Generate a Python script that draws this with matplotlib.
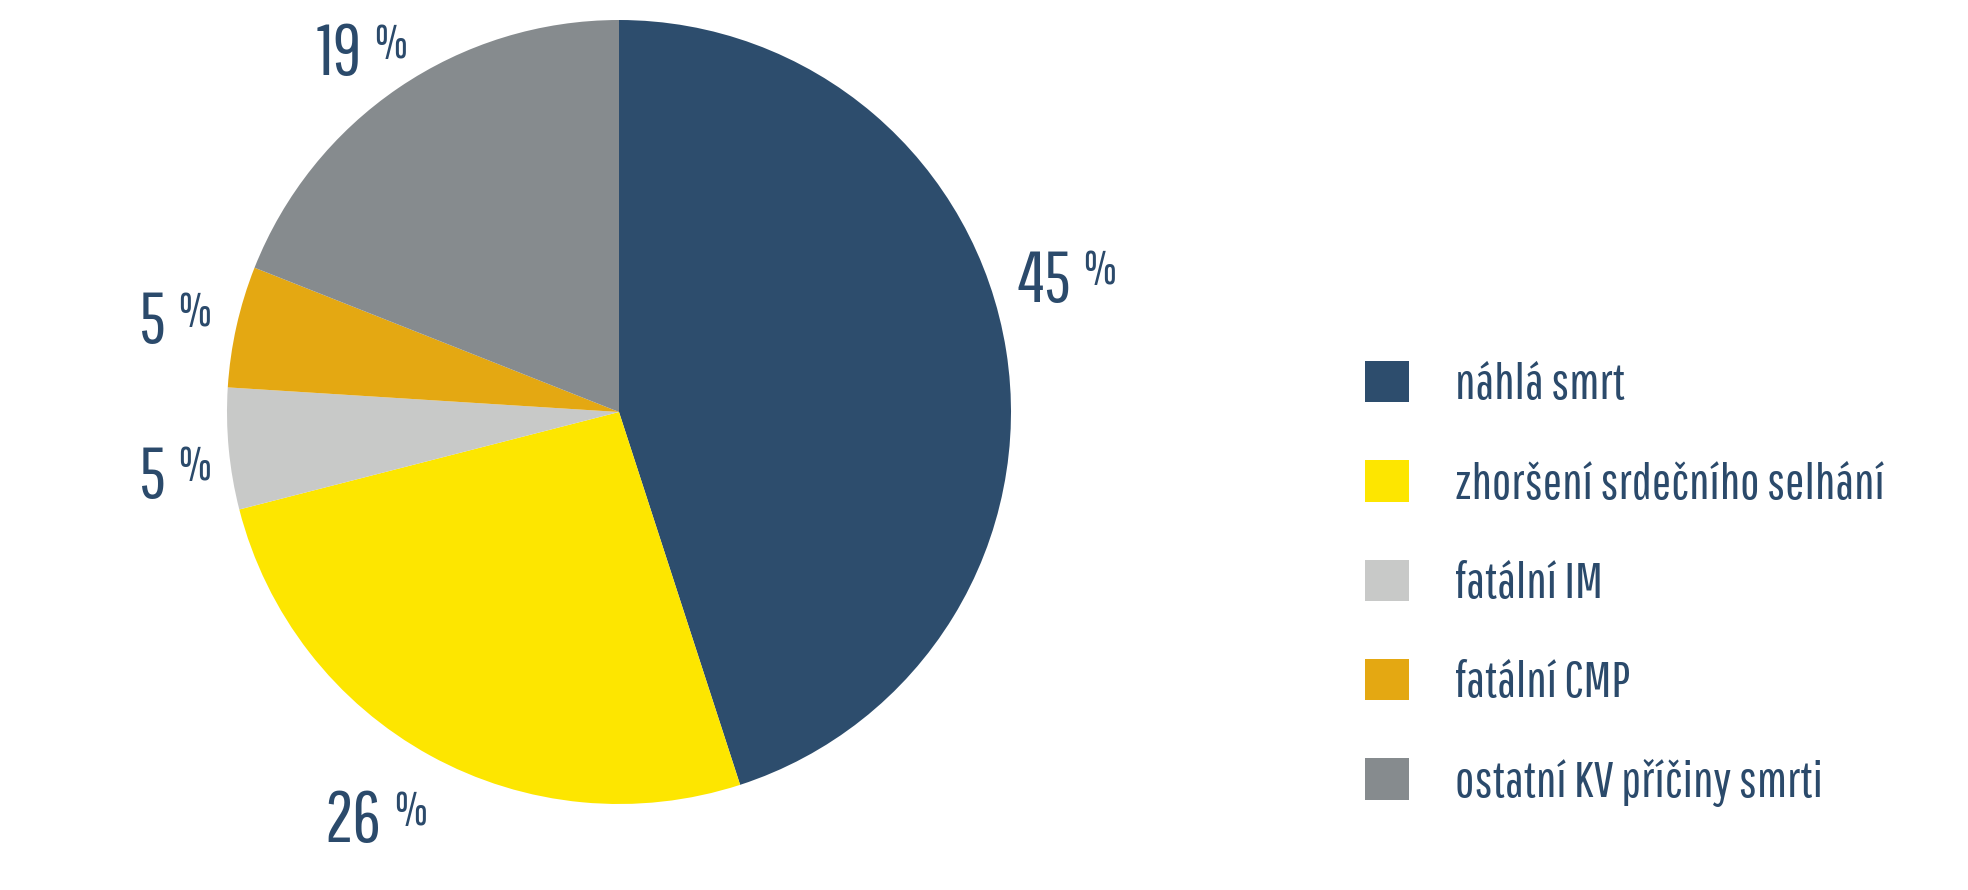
import numpy as np
import matplotlib
matplotlib.use('Agg')
import matplotlib.pyplot as plt
from matplotlib.transforms import offset_copy

plt.rcParams['font.family'] = ['Pathway Gothic One', 'Roboto Condensed', 'DejaVu Sans']

# Data
labels = ['náhlá smrt', 'zhoršení srdečního selhání', 'fatální IM',
          'fatální CMP', 'ostatní KV příčiny smrti']
values = [45, 26, 5, 5, 19]
colors = ['#2d4d6d', '#fde600', '#c8c9c8', '#e4a812', '#868b8e']
text_color = '#2b4a6b'

# label anchor positions (right edge / baseline of the number), in pie units
label_pos = [(1.153, 0.281), (-0.605, -1.097), (-1.156, -0.219),
             (-1.156, 0.176), (-0.656, 0.860)]

W, H = 1968, 890
fig = plt.figure(figsize=(W / 100, H / 100), dpi=100)
cx, cy, r = 619, 412, 392
ax = fig.add_axes([(cx - r) / W, (H - cy - r) / H, 2 * r / W, 2 * r / H])

wedges, _ = ax.pie(values, colors=colors, startangle=90, counterclock=False,
                   radius=1.0, wedgeprops=dict(linewidth=0))
ax.set_xlim(-1, 1)
ax.set_ylim(-1, 1)
ax.set_aspect('equal')
ax.axis('off')

# percentage labels: big number + small raised %
pct_tr = offset_copy(ax.transData, fig=fig, x=8.5, y=12.5, units='points')
for v, (x, y) in zip(values, label_pos):
    ax.text(x, y, str(v), ha='right', va='baseline', fontsize=51,
            color=text_color, clip_on=False)
    ax.text(x, y, '%', ha='left', va='baseline', fontsize=34,
            color=text_color, transform=pct_tr, clip_on=False)

# legend
fig.legend(wedges, labels, loc='upper left',
           bbox_to_anchor=(1365 / W, 1 - 361 / H), frameon=False,
           fontsize=37, labelcolor=text_color,
           handlelength=0.86, handleheight=0.86, handletextpad=0.9,
           labelspacing=1.01, borderpad=0, borderaxespad=0)

fig.savefig('out.png', dpi=100)
